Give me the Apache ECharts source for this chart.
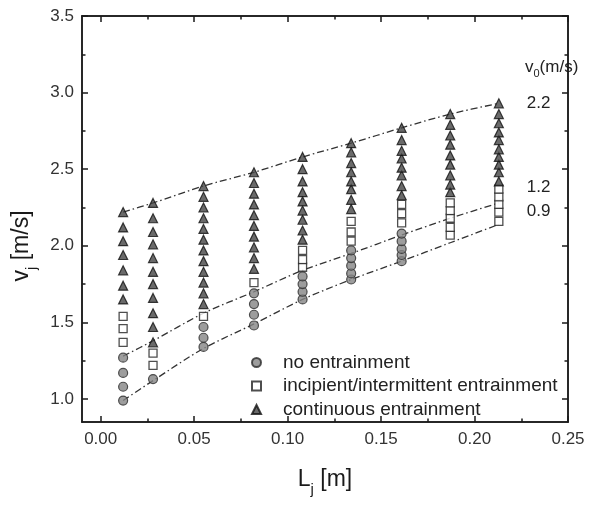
<!DOCTYPE html>
<html>
<head>
<meta charset="utf-8">
<script src="https://cdn.jsdelivr.net/npm/echarts@6/dist/echarts.min.js"></script>
<style>
  html, body { margin: 0; padding: 0; background: #fff; }
  #chart { width: 614px; height: 506px; }
</style>
</head>
<body>
<div id="chart"></div>
<script>
// Jet length of each measurement column, m
const lengths = [0.012, 0.028, 0.055, 0.082, 0.108, 0.134, 0.161, 0.187, 0.213];

// Jet velocities (m/s) per column, grouped by observed regime
const noEntrainment = [
  [0.99, 1.08, 1.17, 1.27],
  [1.13],
  [1.34, 1.40, 1.47],
  [1.48, 1.55, 1.62, 1.69],
  [1.65, 1.70, 1.75, 1.80],
  [1.78, 1.82, 1.87, 1.92, 1.97],
  [1.90, 1.94, 1.98, 2.03, 2.08],
  [],
  []
];
const incipientEntrainment = [
  [1.37, 1.46, 1.54],
  [1.22, 1.30],
  [1.54],
  [1.76],
  [1.86, 1.91, 1.97],
  [2.03, 2.09, 2.16],
  [2.15, 2.21, 2.27],
  [2.07, 2.12, 2.18, 2.23, 2.28],
  [2.16, 2.22, 2.27, 2.32, 2.37]
];
const continuousEntrainment = [
  [1.65, 1.74, 1.84, 1.94, 2.03, 2.12, 2.22],
  [1.37, 1.47, 1.56, 1.66, 1.75, 1.83, 1.92, 2.01, 2.09, 2.18, 2.28],
  [1.62, 1.69, 1.76, 1.83, 1.90, 1.97, 2.04, 2.11, 2.18, 2.25, 2.32, 2.39],
  [1.85, 1.92, 1.99, 2.06, 2.13, 2.20, 2.27, 2.34, 2.41, 2.48],
  [2.04, 2.10, 2.17, 2.23, 2.29, 2.35, 2.42, 2.50, 2.58],
  [2.24, 2.30, 2.37, 2.42, 2.48, 2.54, 2.61, 2.67],
  [2.33, 2.39, 2.46, 2.51, 2.57, 2.62, 2.69, 2.77],
  [2.35, 2.40, 2.46, 2.53, 2.59, 2.66, 2.72, 2.79, 2.86],
  [2.42, 2.48, 2.53, 2.58, 2.63, 2.69, 2.74, 2.80, 2.86, 2.93]
];

// Boundary curves for the nozzle velocities v0 (m/s)
const curveV0 = ['2.2', '1.2', '0.9'];
const curve22 = [2.22, 2.28, 2.39, 2.48, 2.58, 2.67, 2.77, 2.86, 2.93];
const curve12 = [1.28, 1.38, 1.56, 1.70, 1.84, 1.95, 2.07, 2.18, 2.28];
const curve09 = [0.99, 1.12, 1.33, 1.49, 1.65, 1.78, 1.90, 2.02, 2.14];

// Axis ticks
const xMajorTicks = [0.00, 0.05, 0.10, 0.15, 0.20, 0.25];
const xMinorTicks = [0.025, 0.075, 0.125, 0.175, 0.225];
const yMajorTicks = [1.0, 1.5, 2.0, 2.5, 3.0, 3.5];
const yMinorTicks = [1.25, 1.75, 2.25, 2.75, 3.25];

const legendNames = ['no entrainment', 'incipient/intermittent entrainment', 'continuous entrainment'];

const FONT = 'Liberation Sans, Arial, sans-serif';
const INK = '#1a1a1a';

function toPoints(groups) {
  const pts = [];
  groups.forEach((vals, i) => vals.forEach(v => pts.push([lengths[i], v])));
  return pts;
}

function axisDef(dim, gridIndex, position, ticks, tickLen, withLabels) {
  const isX = dim === 'x';
  return {
    type: 'value',
    gridIndex: gridIndex,
    position: position,
    min: isX ? -0.01 : 0.85,
    max: isX ? 0.25 : 3.5,
    axisLine: { show: true, onZero: false, lineStyle: { color: INK, width: 1.5 } },
    axisTick: { show: true, inside: true, length: tickLen, customValues: ticks,
                lineStyle: { color: INK, width: 1.5 } },
    axisLabel: {
      show: withLabels,
      customValues: ticks,
      margin: isX ? 9 : 8,
      color: '#333',
      fontFamily: FONT,
      fontSize: 17,
      formatter: v => isX ? v.toFixed(2) : v.toFixed(1)
    },
    splitLine: { show: false }
  };
}

function curveSeries(values, label, offset) {
  return {
    type: 'line',
    xAxisIndex: 0, yAxisIndex: 0,
    data: values.map((v, i) => [lengths[i], v]),
    symbol: 'none',
    smooth: 0.3,
    silent: true,
    z: 1,
    lineStyle: { color: '#333', width: 1.3, type: [7, 3, 1.5, 3] },
    endLabel: { show: true, formatter: label, offset: offset, distance: 28,
                color: '#222', fontFamily: FONT, fontSize: 17 }
  };
}

const grid = { left: 82, right: 46, top: 16, bottom: 84 };

const option = {
  backgroundColor: '#fff',
  animation: false,
  grid: [Object.assign({}, grid), Object.assign({}, grid)],
  xAxis: [
    axisDef('x', 0, 'bottom', xMajorTicks, 6, true),
    axisDef('x', 0, 'top', xMajorTicks, 6, false),
    axisDef('x', 1, 'bottom', xMinorTicks, 3.5, false),
    axisDef('x', 1, 'top', xMinorTicks, 3.5, false)
  ],
  yAxis: [
    axisDef('y', 0, 'left', yMajorTicks, 6, true),
    axisDef('y', 0, 'right', yMajorTicks, 6, false),
    axisDef('y', 1, 'left', yMinorTicks, 3.5, false),
    axisDef('y', 1, 'right', yMinorTicks, 3.5, false)
  ],
  legend: {
    data: legendNames,
    orient: 'vertical',
    left: 246,
    top: 348,
    itemWidth: 9,
    itemHeight: 9,
    itemGap: 4.5,
    selectedMode: false,
    textStyle: { color: '#222', fontFamily: FONT, fontSize: 19, lineHeight: 19,
                 padding: [0, 0, 0, 17] }
  },
  series: [
    curveSeries(curve22, curveV0[0], [0, 0]),
    curveSeries(curve12, curveV0[1], [0, -16]),
    curveSeries(curve09, curveV0[2], [0, -13]),
    {
      name: legendNames[0],
      type: 'scatter',
      data: toPoints(noEntrainment),
      symbol: 'circle',
      symbolSize: 9,
      z: 3,
      itemStyle: { color: '#858585', borderColor: '#2a2a2a', borderWidth: 1.2 }
    },
    {
      name: legendNames[1],
      type: 'scatter',
      data: toPoints(incipientEntrainment),
      symbol: 'rect',
      symbolSize: 8,
      z: 3,
      itemStyle: { color: '#fff', borderColor: '#222', borderWidth: 1.3 }
    },
    {
      name: legendNames[2],
      type: 'scatter',
      data: toPoints(continuousEntrainment),
      symbol: 'triangle',
      symbolSize: 9,
      z: 3,
      itemStyle: { color: '#454545', borderColor: '#111', borderWidth: 1.2 }
    }
  ],
  graphic: [
    {
      type: 'text',
      x: 25, y: 246,
      rotation: Math.PI / 2,
      style: {
        text: '{a|v}{b|j}{a| [m/s]}',
        align: 'center',
        verticalAlign: 'middle',
        fill: INK,
        rich: {
          a: { fontFamily: FONT, fontSize: 23, verticalAlign: 'bottom', padding: [0, 0, 6, 0], fill: INK },
          b: { fontFamily: FONT, fontSize: 15, verticalAlign: 'bottom', fill: INK }
        }
      }
    },
    {
      type: 'text',
      x: 325, y: 483,
      style: {
        text: '{a|L}{b|j}{a| [m]}',
        align: 'center',
        verticalAlign: 'middle',
        fill: INK,
        rich: {
          a: { fontFamily: FONT, fontSize: 23, verticalAlign: 'bottom', padding: [0, 0, 6, 0], fill: INK },
          b: { fontFamily: FONT, fontSize: 15, verticalAlign: 'bottom', fill: INK }
        }
      }
    },
    {
      type: 'text',
      x: 525, y: 69,
      style: {
        text: '{a|v}{b|0}{a|(m/s)}',
        align: 'left',
        verticalAlign: 'middle',
        fill: '#222',
        rich: {
          a: { fontFamily: FONT, fontSize: 17, verticalAlign: 'bottom', padding: [0, 0, 4, 0], fill: '#222' },
          b: { fontFamily: FONT, fontSize: 11, verticalAlign: 'bottom', fill: '#222' }
        }
      }
    }
  ]
};

const chart = echarts.init(document.getElementById('chart'), null, { renderer: 'canvas' });
chart.setOption(option);
</script>
</body>
</html>
